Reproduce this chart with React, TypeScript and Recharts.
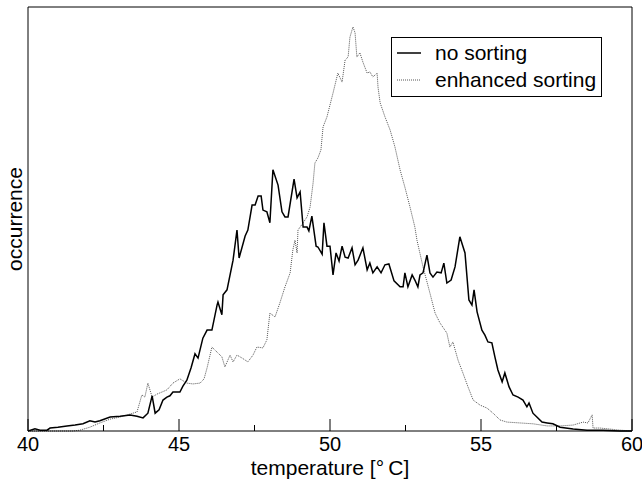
import React from 'react';
import { LineChart, Line, XAxis, YAxis, Legend } from 'recharts';

const FONT = '"Liberation Sans", Arial, Helvetica, sans-serif';

const xTicks = [40, 42.5, 45, 47.5, 50, 52.5, 55, 57.5, 60];
const xTickLabels = ['40', '', '45', '', '50', '', '55', '', '60'];
const seriesNames = ['no sorting', 'enhanced sorting'];
const xAxisTitle = 'temperature [°\u2009C]';
const yAxisTitle = 'occurrence';

const noSortTemp = [
  40.0, 40.23, 40.4, 40.63, 40.73, 40.99, 41.29, 41.56, 41.82, 42.05,
  42.22, 42.38, 42.72, 43.05, 43.38, 43.61, 43.81, 43.97, 44.11, 44.21,
  44.34, 44.47, 44.6, 44.7, 44.8, 45.03, 45.13, 45.26, 45.4, 45.53,
  45.63, 45.79, 45.93, 46.09, 46.26, 46.29, 46.42, 46.46, 46.59, 46.79,
  46.92, 46.99, 47.19, 47.28, 47.42, 47.52, 47.62, 47.72, 47.78, 47.91,
  48.01, 48.11, 48.28, 48.41, 48.51, 48.61, 48.81, 48.91, 49.01, 49.11,
  49.24, 49.3, 49.4, 49.54, 49.6, 49.74, 49.8, 49.9, 50.0, 50.1,
  50.2, 50.3, 50.4, 50.5, 50.6, 50.73, 50.83, 50.93, 51.09, 51.23,
  51.32, 51.42, 51.56, 51.69, 51.82, 51.95, 52.12, 52.32, 52.42, 52.48,
  52.58, 52.72, 52.81, 52.91, 52.98, 53.08, 53.21, 53.31, 53.41, 53.54,
  53.68, 53.77, 53.87, 54.01, 54.14, 54.3, 54.47, 54.6, 54.7, 54.77,
  54.87, 55.03, 55.13, 55.23, 55.36, 55.46, 55.56, 55.7, 55.79, 55.93,
  56.06, 56.23, 56.39, 56.52, 56.59, 56.72, 56.85, 57.02, 57.19, 57.38,
  57.62, 58.05, 58.51, 59.04, 59.6, 60.0,
];
const noSortCount = [
  0, 0.5, 0.2, 0.2, 0.7, 0.9, 1.2, 1.4, 1.7, 2.4,
  2.1, 2.4, 3.3, 3.5, 3.8, 3.5, 3.1, 4.2, 8.3, 4.2,
  5.0, 7.3, 8.0, 8.3, 9.2, 9.2, 10.6, 12.0, 14.9, 18.2,
  17.2, 21.9, 23.8, 23.8, 29.7, 30.4, 27.4, 32.1, 33.3, 40.3,
  47.4, 40.8, 46.0, 47.4, 53.3, 53.3, 55.4, 55.4, 52.1, 51.7,
  49.1, 61.6, 58.0, 51.7, 50.5, 50.5, 59.4, 55.0, 56.4, 48.1,
  48.1, 47.2, 50.7, 43.6, 43.4, 41.7, 49.1, 43.6, 43.6, 36.8,
  42.0, 40.1, 43.6, 41.0, 40.8, 43.2, 39.2, 40.3, 43.2, 38.0,
  39.6, 37.3, 38.7, 37.3, 39.2, 39.4, 35.4, 34.0, 34.0, 37.3,
  34.0, 36.8, 35.6, 34.0, 36.8, 37.3, 41.5, 37.3, 36.3, 37.5,
  37.3, 39.6, 34.9, 35.6, 38.7, 45.8, 42.0, 30.9, 29.7, 33.3,
  28.1, 23.8, 22.6, 21.0, 20.8, 17.5, 14.4, 11.6, 13.7, 10.4,
  8.5, 8.0, 7.3, 5.7, 6.6, 4.2, 3.3, 2.1, 1.9, 1.7,
  0.9, 0.5, 0.2, 0.2, 0, 0,
];

const enhTemp = [
  40.0, 41.49, 41.72, 42.05, 42.38, 42.72, 43.05, 43.38, 43.61, 43.77,
  43.87, 43.97, 44.11, 44.27, 44.44, 44.6, 44.8, 45.03, 45.26, 45.46,
  45.7, 45.83, 45.93, 46.09, 46.26, 46.42, 46.52, 46.69, 46.79, 46.92,
  47.09, 47.28, 47.45, 47.58, 47.78, 47.91, 48.01, 48.18, 48.34, 48.51,
  48.68, 48.77, 48.84, 48.91, 48.94, 49.11, 49.24, 49.34, 49.44, 49.5,
  49.6, 49.7, 49.77, 49.9, 50.1, 50.26, 50.4, 50.5, 50.6, 50.66,
  50.76, 50.83, 50.89, 50.99, 51.09, 51.23, 51.32, 51.42, 51.56, 51.59,
  51.66, 51.82, 51.99, 52.15, 52.32, 52.48, 52.65, 52.81, 52.88, 53.08,
  53.31, 53.48, 53.64, 53.87, 53.97, 54.07, 54.24, 54.4, 54.57, 54.74,
  54.97, 55.2, 55.4, 55.63, 55.86, 56.29, 56.72, 57.19, 57.62, 58.05,
  58.38, 58.54, 58.68, 58.71, 58.94, 59.6, 60.0,
];
const enhCount = [
  0, 0, 0.2, 0.9, 1.9, 2.8, 3.3, 4.0, 4.5, 8.5,
  8.0, 11.3, 8.0, 8.7, 9.2, 9.7, 11.3, 12.3, 11.3, 11.1,
  11.3, 12.3, 14.9, 19.8, 18.6, 17.5, 15.1, 17.9, 16.3, 17.9,
  17.2, 16.3, 17.9, 19.8, 19.6, 21.5, 27.8, 26.9, 30.2, 34.0,
  37.3, 42.7, 45.0, 42.0, 47.4, 49.1, 50.5, 52.8, 58.5, 63.2,
  64.4, 66.3, 71.7, 74.1, 79.7, 84.4, 82.3, 87.5, 88.2, 92.9,
  95.3, 93.9, 88.2, 89.2, 87.0, 84.4, 84.7, 83.5, 84.4, 81.1,
  77.4, 74.1, 71.0, 67.0, 61.6, 57.5, 52.8, 48.1, 45.0, 38.7,
  32.5, 27.8, 25.5, 23.1, 19.8, 21.0, 16.7, 13.7, 10.4, 7.3,
  6.1, 5.4, 4.2, 2.6, 2.1, 1.9, 1.7, 1.2, 1.2, 1.4,
  2.1, 1.9, 3.8, 0.7, 0.7, 0.2, 0,
];

const noSortData = noSortTemp.map((t, i) => ({ t, v: noSortCount[i] }));
const enhData = enhTemp.map((t, i) => ({ t, v: enhCount[i] }));

const BottomTick = (props: any) => {
  const { x, y, payload } = props;
  const label = xTickLabels[xTicks.indexOf(payload.value)];
  const len = label ? 12 : 6;
  return (
    <g>
      <line x1={x} x2={x} y1={y} y2={y - len} stroke="#000" strokeWidth={1} />
      {label ? (
        <text x={x} y={y + 20} textAnchor="middle" fontSize={20} fontFamily={FONT} fill="#000">
          {label}
        </text>
      ) : null}
    </g>
  );
};

const TopTick = (props: any) => {
  const { x, y, payload } = props;
  const label = xTickLabels[xTicks.indexOf(payload.value)];
  const len = label ? 12 : 6;
  return <line x1={x} x2={x} y1={y} y2={y + len} stroke="#000" strokeWidth={1} />;
};

const LegendBox = () => (
  <svg width={212} height={61} style={{ display: 'block' }}>
    <rect x={0.5} y={0.5} width={210} height={59} fill="#fff" stroke="#000" strokeWidth={1} />
    <line x1={6} x2={30} y1={16} y2={16} stroke="#000" strokeWidth={1.5} />
    <text x={44} y={23} fontSize={21} fontFamily={FONT} fill="#000">{seriesNames[0]}</text>
    <line x1={6} x2={30} y1={43} y2={43} stroke="#555" strokeWidth={1} strokeDasharray="1 1" />
    <text x={44} y={50} fontSize={21} fontFamily={FONT} fill="#000">{seriesNames[1]}</text>
  </svg>
);

export default function App() {
  return (
    <div style={{ position: 'absolute', left: 0, top: 0, width: 642, height: 481, background: '#fff' }}>
      <LineChart width={642} height={481} margin={{ top: 0, right: 0, bottom: 0, left: 0 }}>
        <XAxis
          xAxisId="b"
          dataKey="t"
          type="number"
          domain={[40, 60]}
          ticks={xTicks}
          interval={0}
          tickSize={0}
          tickMargin={0}
          tickLine={false}
          tick={<BottomTick />}
          axisLine={{ stroke: '#000', strokeWidth: 1 }}
          height={50}
          allowDataOverflow
          label={{
            content: (p: any) => {
              const vb = p.viewBox || { x: 28, y: 431, width: 604 };
              const cx = vb.x + vb.width / 2;
              return (
                <text x={cx} y={vb.y + 44} textAnchor="middle" fontSize={21} fontFamily={FONT} fill="#000">
                  {xAxisTitle}
                </text>
              );
            },
          }}
        />
        <XAxis
          xAxisId="top"
          orientation="top"
          type="number"
          domain={[40, 60]}
          ticks={xTicks}
          interval={0}
          tickSize={0}
          tickMargin={0}
          tickLine={false}
          tick={<TopTick />}
          axisLine={{ stroke: '#000', strokeWidth: 1 }}
          height={7}
          allowDataOverflow
        />
        <YAxis
          yAxisId="l"
          type="number"
          domain={[0, 100]}
          width={28}
          tick={false}
          tickLine={false}
          axisLine={{ stroke: '#000', strokeWidth: 1 }}
          label={{
            content: (p: any) => {
              const vb = p.viewBox || { x: 0, y: 7, width: 28, height: 424 };
              const cx = vb.x + 22;
              const cy = vb.y + vb.height / 2;
              return (
                <text
                  x={cx}
                  y={cy}
                  transform={`rotate(-90, ${cx}, ${cy})`}
                  textAnchor="middle"
                  fontSize={21}
                  fontFamily={FONT}
                  fill="#000"
                >
                  {yAxisTitle}
                </text>
              );
            },
          }}
        />
        <YAxis
          yAxisId="r"
          orientation="right"
          type="number"
          domain={[0, 100]}
          width={10}
          tick={false}
          tickLine={false}
          axisLine={{ stroke: '#000', strokeWidth: 1 }}
        />
        <Line
          xAxisId="b"
          yAxisId="l"
          data={enhData}
          dataKey="v"
          name={seriesNames[1]}
          type="linear"
          stroke="#555"
          strokeWidth={1}
          strokeDasharray="1 1"
          dot={false}
          activeDot={false}
          isAnimationActive={false}
        />
        <Line
          xAxisId="b"
          yAxisId="l"
          data={noSortData}
          dataKey="v"
          name={seriesNames[0]}
          type="linear"
          stroke="#000"
          strokeWidth={1.5}
          dot={false}
          activeDot={false}
          isAnimationActive={false}
        />
        <Legend
          layout="horizontal"
          verticalAlign="middle"
          align="center"
          content={<LegendBox />}
          wrapperStyle={{ position: 'absolute', left: 391, top: 37, width: 212, height: 61, margin: 0, padding: 0 }}
        />
      </LineChart>
    </div>
  );
}
